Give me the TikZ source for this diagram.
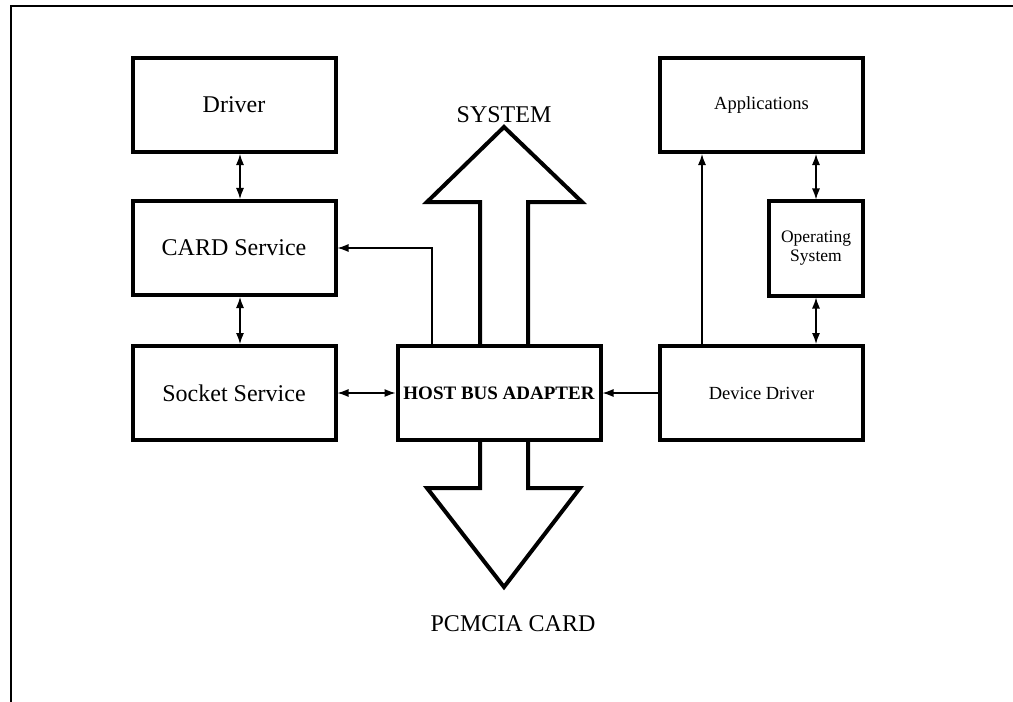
\documentclass[tikz,border=0pt]{standalone}
\usepackage{fontspec}
\setmainfont{Liberation Serif}
\usetikzlibrary{arrows.meta,calc}
\begin{document}
\begin{tikzpicture}[x=1bp,y=-1bp,
  box/.style={draw,line width=4bp,minimum width=203bp,minimum height=94bp,inner sep=0pt,align=center},
  big/.style={font=\fontsize{24bp}{28bp}\selectfont},
  small/.style={font=\fontsize{18.5bp}{19.5bp}\selectfont},
  conn/.style={line width=1.2bp,{Latex[length=11bp,width=8bp]}-{Latex[length=11bp,width=8bp]}},
  conn1/.style={line width=1.2bp,-{Latex[length=11bp,width=8bp]}},
  fat/.style={line width=4bp,line join=miter}]
\useasboundingbox (0,0) rectangle (1013,702);
\draw[line width=1.8bp] (11,702) -- (11,6) -- (1013,6);

\node[box,big] (drv) at (234,105) {Driver};
\node[box,big] (card) at (234,248) {CARD Service};
\node[box,big] (sock) at (234,393) {Socket Service};
\node[box,font=\bfseries\fontsize{19bp}{22bp}\selectfont] (hba) at (499,393) {HOST BUS ADAPTER};
\node[box,small] (apps) at (761.5,105) {Applications};
\node[box,small,minimum width=94bp,font=\fontsize{17.5bp}{19bp}\selectfont] (os) at (816,248.5) {Operating\\System};
\node[box,small] (dd) at (761.5,393) {Device Driver};

\coordinate (ax) at (240,0);
\coordinate (cx) at (432,0);
\coordinate (dx) at (702,0);

\draw[conn] (drv.south -| ax) -- (card.north -| ax);
\draw[conn] (card.south -| ax) -- (sock.north -| ax);
\draw[conn1] (hba.north -| cx) |- (card.east);
\draw[conn] (sock.east) -- (hba.west);
\draw[conn1] (dd.west) -- (hba.east);
\draw[conn1] (dd.north -| dx) -- (apps.south -| dx);
\draw[conn] (apps.south -| os.north) -- (os.north);
\draw[conn] (os.south) -- (dd.north -| os.south);

% big arrows
\draw[fat] (hba.north -| 480,0) -- (480,202) -- (427,202) -- (504,127) -- (582,202) -- (528,202) -- (hba.north -| 528,0);
\draw[fat] (hba.south -| 480,0) -- (480,488) -- (427,488) -- (504,587) -- (580,488) -- (528,488) -- (hba.south -| 528,0);

\node[big] (sys) at (504,115) {SYSTEM};
\node[big] (pc) at (513,624) {PCMCIA CARD};
\end{tikzpicture}
\end{document}
